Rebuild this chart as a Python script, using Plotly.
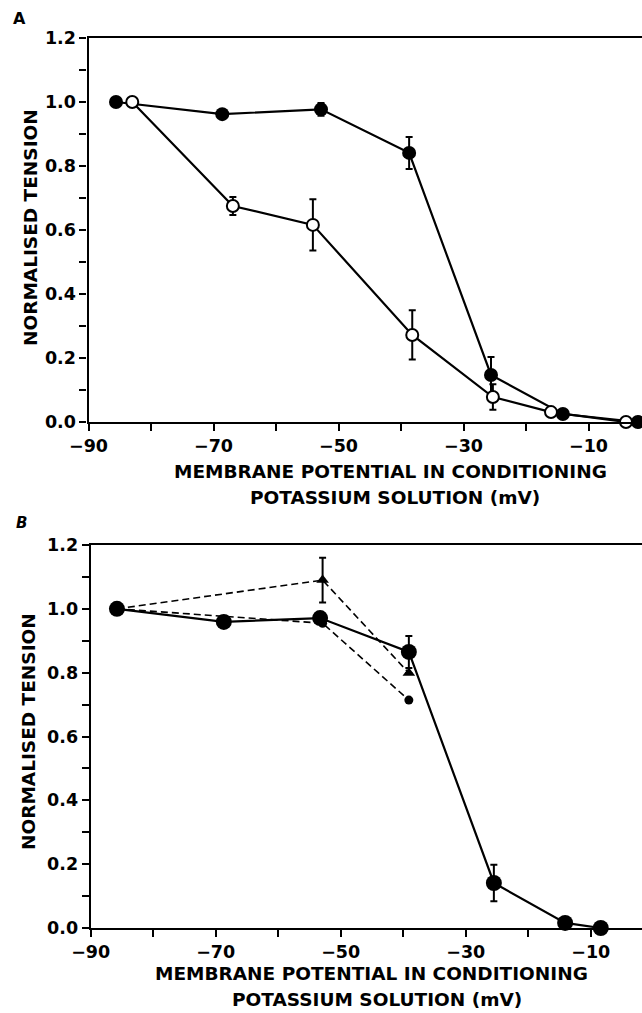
import plotly.graph_objects as go

# ---------------- Panel A data ----------------
a_filled_x = [-85.6, -68.6, -52.8, -38.7, -25.6, -14.1, -2.1]
a_filled_y = [1.0, 0.962, 0.977, 0.841, 0.147, 0.025, 0.0]
a_filled_err = [0.0, 0.0, 0.02, 0.05, 0.056, 0.0, 0.0]

a_open_x = [-83.0, -66.9, -54.1, -38.2, -25.3, -16.0, -4.0]
a_open_y = [1.0, 0.675, 0.616, 0.272, 0.078, 0.031, 0.0]
a_open_err = [0.0, 0.028, 0.08, 0.077, 0.04, 0.0, 0.0]

# ---------------- Panel B data ----------------
b_main_x = [-85.8, -68.7, -53.3, -39.1, -25.5, -14.1, -8.4]
b_main_y = [1.0, 0.959, 0.971, 0.865, 0.141, 0.016, 0.0]
b_main_err = [0.0, 0.0, 0.0, 0.05, 0.057, 0.0, 0.0]

b_tri_x = [-85.8, -52.9, -39.1]
b_tri_y = [1.0, 1.09, 0.799]
b_tri_err = [0.0, 0.07, 0.0]

b_dot_x = [-85.8, -52.9, -39.1]
b_dot_y = [1.0, 0.955, 0.714]

x_ticks = [-90, -70, -50, -30, -10]
y_ticks = [0.0, 0.2, 0.4, 0.6, 0.8, 1.0, 1.2]

x_title_1 = "MEMBRANE POTENTIAL IN CONDITIONING"
x_title_2 = "POTASSIUM SOLUTION (mV)"
y_title = "NORMALISED TENSION"

W, H = 642, 1013
FONT = "DejaVu Sans"

fig = go.Figure()

def err(arr, w=3.5):
    return dict(type="data", array=arr, visible=True, color="black", thickness=2, width=w)

# Panel A
fig.add_trace(go.Scatter(x=a_filled_x, y=a_filled_y, mode="lines+markers",
                         line=dict(color="black", width=2.2),
                         marker=dict(symbol="circle", size=14, color="black"),
                         error_y=err(a_filled_err), cliponaxis=False,
                         xaxis="x", yaxis="y", showlegend=False))
fig.add_trace(go.Scatter(x=a_open_x, y=a_open_y, mode="lines+markers",
                         line=dict(color="black", width=2.2),
                         marker=dict(symbol="circle", size=12, color="white",
                                     line=dict(color="black", width=2)),
                         error_y=err(a_open_err), cliponaxis=False,
                         xaxis="x", yaxis="y", showlegend=False))

# Panel B
fig.add_trace(go.Scatter(x=b_dot_x, y=b_dot_y, mode="lines+markers",
                         line=dict(color="black", width=1.6, dash="7px,4px"),
                         marker=dict(symbol="circle", size=9, color="black"),
                         cliponaxis=False,
                         xaxis="x2", yaxis="y2", showlegend=False))
fig.add_trace(go.Scatter(x=b_tri_x, y=b_tri_y, mode="lines+markers",
                         line=dict(color="black", width=1.6, dash="7px,4px"),
                         marker=dict(symbol="triangle-up", size=11, color="black"),
                         error_y=err(b_tri_err), cliponaxis=False,
                         xaxis="x2", yaxis="y2", showlegend=False))
fig.add_trace(go.Scatter(x=b_main_x, y=b_main_y, mode="lines+markers",
                         line=dict(color="black", width=2.2),
                         marker=dict(symbol="circle", size=16, color="black"),
                         error_y=err(b_main_err), cliponaxis=False,
                         xaxis="x2", yaxis="y2", showlegend=False))

tickfont = dict(family=FONT, size=17.5, color="black", weight="bold")

def xaxis(domain, rng, anchor):
    return dict(domain=domain, range=rng, anchor=anchor, automargin=False,
                tickvals=x_ticks, ticks="outside", ticklen=7, tickwidth=2,
                tickcolor="black", showline=True, linecolor="black", linewidth=2.2,
                mirror=True, showgrid=False, zeroline=False, tickfont=tickfont,
                minor=dict(tick0=-90, dtick=10, ticks="outside", ticklen=7,
                           tickwidth=2, tickcolor="black", showgrid=False))

def yaxis(domain, anchor):
    return dict(domain=domain, range=[0, 1.2], anchor=anchor, automargin=False,
                tickvals=y_ticks, tickformat=".1f", ticks="outside", ticklen=7,
                tickwidth=2, tickcolor="black", showline=True, linecolor="black",
                linewidth=2.2, showgrid=False, zeroline=False, tickfont=tickfont,
                minor=dict(tick0=0, dtick=0.1, ticks="outside", ticklen=7,
                           tickwidth=2, tickcolor="black", showgrid=False))

fig.update_layout(
    width=W, height=H,
    margin=dict(l=0, r=0, t=0, b=0, autoexpand=False),
    paper_bgcolor="white", plot_bgcolor="white",
    xaxis=xaxis([88.5 / W, 1.0], [-90, -1.44], "y"),
    yaxis=yaxis([1 - 422 / H, 1 - 38 / H], "x"),
    xaxis2=xaxis([90.7 / W, 1.0], [-90, -1.8], "y2"),
    yaxis2=yaxis([1 - 928 / H, 1 - 545 / H], "x2"),
)

titlefont = dict(family=FONT, size=18.5, color="black", weight="bold")

def ann(text, x, y, font, angle=0):
    fig.add_annotation(text=text, x=x / W, y=1 - y / H, xref="paper", yref="paper",
                       xanchor="center", yanchor="middle", showarrow=False,
                       font=font, textangle=angle)

ann(x_title_1, 390, 472, titlefont)
ann(x_title_2, 395, 497, titlefont)
ann(x_title_1, 371, 973, titlefont)
ann(x_title_2, 377, 999, titlefont)
ann(y_title, 31, 228, titlefont, -90)
ann(y_title, 28, 732, titlefont, -90)
ann("A", 19, 18, dict(family=FONT, size=16, color="black", weight="bold"))
ann("B", 22, 523, dict(family=FONT, size=15, color="black", weight="bold", style="italic"))

fig.write_html("out.html")
